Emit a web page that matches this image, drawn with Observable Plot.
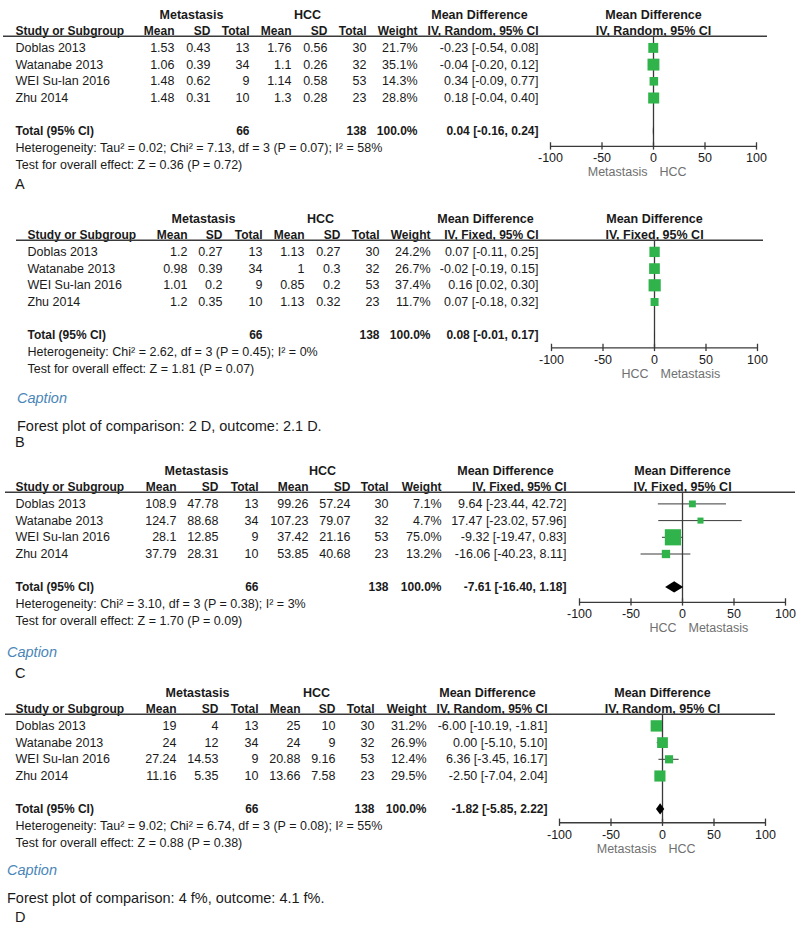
<!DOCTYPE html>
<html><head><meta charset="utf-8">
<script src="https://cdn.jsdelivr.net/npm/d3@7"></script>
<script src="https://cdn.jsdelivr.net/npm/@observablehq/plot@0.6"></script>
<style>
body{margin:0;background:#fff;font-family:"Liberation Sans",Arial,sans-serif;}
#fig{position:relative;width:800px;height:925px;overflow:hidden;background:#fff;}
.panel{position:absolute;left:0;}
.note{position:absolute;white-space:nowrap;transform:translateY(-50%);line-height:1;color:#1a1a1a;font-size:14.5px;}
.cap{color:#4a86b8;font-style:italic;}
</style></head><body><div id="fig"></div>
<script>
// ---------- data ----------
const studies = ["Doblas 2013", "Watanabe 2013", "WEI Su-lan 2016", "Zhu 2014"];
const ticks = [-100, -50, 0, 50, 100];

// Panel A
const aMetaMean = [1.53, 1.06, 1.48, 1.48];
const aMetaSD = [0.43, 0.39, 0.62, 0.31];
const aMetaN = [13, 34, 9, 10];
const aHccMean = [1.76, 1.1, 1.14, 1.3];
const aHccSD = [0.56, 0.26, 0.58, 0.28];
const aHccN = [30, 32, 53, 23];
const aWeight = [21.7, 35.1, 14.3, 28.8];
const aMD = [-0.23, -0.04, 0.34, 0.18];
const aLo = [-0.54, -0.20, -0.09, -0.04];
const aHi = [0.08, 0.12, 0.77, 0.40];
const aTotal = {mN: 66, hN: 138, w: 100.0, md: 0.04, lo: -0.16, hi: 0.24};
const aHet = "Heterogeneity: Tau² = 0.02; Chi² = 7.13, df = 3 (P = 0.07); I² = 58%";
const aTest = "Test for overall effect: Z = 0.36 (P = 0.72)";
const aModel = "IV, Random, 95% CI";
const aSides = ["Metastasis", "HCC"];

// Panel B
const bMetaMean = [1.2, 0.98, 1.01, 1.2];
const bMetaSD = [0.27, 0.39, 0.2, 0.35];
const bMetaN = [13, 34, 9, 10];
const bHccMean = [1.13, 1, 0.85, 1.13];
const bHccSD = [0.27, 0.3, 0.2, 0.32];
const bHccN = [30, 32, 53, 23];
const bWeight = [24.2, 26.7, 37.4, 11.7];
const bMD = [0.07, -0.02, 0.16, 0.07];
const bLo = [-0.11, -0.19, 0.02, -0.18];
const bHi = [0.25, 0.15, 0.30, 0.32];
const bTotal = {mN: 66, hN: 138, w: 100.0, md: 0.08, lo: -0.01, hi: 0.17};
const bHet = "Heterogeneity: Chi² = 2.62, df = 3 (P = 0.45); I² = 0%";
const bTest = "Test for overall effect: Z = 1.81 (P = 0.07)";
const bModel = "IV, Fixed, 95% CI";
const bSides = ["HCC", "Metastasis"];

// Panel C
const cMetaMean = [108.9, 124.7, 28.1, 37.79];
const cMetaSD = [47.78, 88.68, 12.85, 28.31];
const cMetaN = [13, 34, 9, 10];
const cHccMean = [99.26, 107.23, 37.42, 53.85];
const cHccSD = [57.24, 79.07, 21.16, 40.68];
const cHccN = [30, 32, 53, 23];
const cWeight = [7.1, 4.7, 75.0, 13.2];
const cMD = [9.64, 17.47, -9.32, -16.06];
const cLo = [-23.44, -23.02, -19.47, -40.23];
const cHi = [42.72, 57.96, 0.83, 8.11];
const cTotal = {mN: 66, hN: 138, w: 100.0, md: -7.61, lo: -16.40, hi: 1.18};
const cHet = "Heterogeneity: Chi² = 3.10, df = 3 (P = 0.38); I² = 3%";
const cTest = "Test for overall effect: Z = 1.70 (P = 0.09)";
const cModel = "IV, Fixed, 95% CI";
const cSides = ["HCC", "Metastasis"];

// Panel D
const dMetaMean = [19, 24, 27.24, 11.16];
const dMetaSD = [4, 12, 14.53, 5.35];
const dMetaN = [13, 34, 9, 10];
const dHccMean = [25, 24, 20.88, 13.66];
const dHccSD = [10, 9, 9.16, 7.58];
const dHccN = [30, 32, 53, 23];
const dWeight = [31.2, 26.9, 12.4, 29.5];
const dMD = [-6.00, 0.00, 6.36, -2.50];
const dLo = [-10.19, -5.10, -3.45, -7.04];
const dHi = [-1.81, 5.10, 16.17, 2.04];
const dTotal = {mN: 66, hN: 138, w: 100.0, md: -1.82, lo: -5.85, hi: 2.22};
const dHet = "Heterogeneity: Tau² = 9.02; Chi² = 6.74, df = 3 (P = 0.08); I² = 55%";
const dTest = "Test for overall effect: Z = 0.88 (P = 0.38)";
const dModel = "IV, Random, 95% CI";
const dSides = ["Metastasis", "HCC"];

const captionWord = "Caption";
const captionB = "Forest plot of comparison: 2 D, outcome: 2.1 D.";
const captionD = "Forest plot of comparison: 4 f%, outcome: 4.1 f%.";
const panelLetters = ["A", "B", "C", "D"];

// ---------- layout (pixels) ----------
const ROW0 = 14, ROWH = 16.7;
const INK = "#1a1a1a", LINE = "#3a3a3a", GREEN = "#2fb34a", SUB = "#707070";
const FONT = "'Liberation Sans', Arial, sans-serif";

const layouts = [
  {top: 0,   h: 204, label: 15, ruleL: 3,  ruleR: 767, cols: [174, 210, 249, 291, 327, 366, 417, 538], grp: [191, 307], mdHead: 479, forest: [550, 756], axis: 7.9},
  {top: 204, h: 252, label: 27, ruleL: 16, ruleR: 763, cols: [187, 222, 262, 304, 340, 379, 430, 538], grp: [203, 320], mdHead: 485, forest: [551, 757], axis: 7.75},
  {top: 456, h: 222, label: 15, ruleL: 5,  ruleR: 795, cols: [176, 218, 258, 308, 350, 388, 441, 566], grp: [196, 322], mdHead: 505, forest: [579, 785], axis: 7.9},
  {top: 678, h: 247, label: 15, ruleL: 5,  ruleR: 775, cols: [176, 218, 258, 300, 335, 374, 426, 547], grp: [197, 316], mdHead: 487, forest: [559, 765], axis: 7.8}
];

const panels = [
  {mMean: aMetaMean, mSD: aMetaSD, mN: aMetaN, hMean: aHccMean, hSD: aHccSD, hN: aHccN, w: aWeight, md: aMD, lo: aLo, hi: aHi, total: aTotal, het: aHet, test: aTest, model: aModel, sides: aSides},
  {mMean: bMetaMean, mSD: bMetaSD, mN: bMetaN, hMean: bHccMean, hSD: bHccSD, hN: bHccN, w: bWeight, md: bMD, lo: bLo, hi: bHi, total: bTotal, het: bHet, test: bTest, model: bModel, sides: bSides},
  {mMean: cMetaMean, mSD: cMetaSD, mN: cMetaN, hMean: cHccMean, hSD: cHccSD, hN: cHccN, w: cWeight, md: cMD, lo: cLo, hi: cHi, total: cTotal, het: cHet, test: cTest, model: cModel, sides: cSides},
  {mMean: dMetaMean, mSD: dMetaSD, mN: dMetaN, hMean: dHccMean, hSD: dHccSD, hN: dHccN, w: dWeight, md: dMD, lo: dLo, hi: dHi, total: dTotal, het: dHet, test: dTest, model: dModel, sides: dSides}
];

const f2 = v => v.toFixed(2);
const ciText = (m, l, h) => `${f2(m)} [${f2(l)}, ${f2(h)}]`;

function makePanel(p, L) {
  const rows = studies.map((s, i) => ({
    study: s, row: i + 2,
    mMean: p.mMean[i], mSD: p.mSD[i], mN: p.mN[i],
    hMean: p.hMean[i], hSD: p.hSD[i], hN: p.hN[i],
    w: p.w[i], md: p.md[i], lo: p.lo[i], hi: p.hi[i]
  }));
  const TOTAL = 7, HET = 8, TEST = 9, RULE = 1.3, AX = L.axis;
  const marks = [];
  const T = (data, o) => marks.push(Plot.text(data, {frameAnchor: "left", fill: INK, fontSize: 12.5, y: "row", text: "t", ...o}));
  const B = {fontWeight: "bold", fontSize: 12};

  // header row 0
  T([{row: 0, t: "Metastasis"}], {dx: L.grp[0], textAnchor: "middle", ...B, fontSize: 12.5});
  T([{row: 0, t: "HCC"}], {dx: L.grp[1], textAnchor: "middle", ...B, fontSize: 12.5});
  T([{row: 0, t: "Mean Difference"}], {dx: L.mdHead, textAnchor: "middle", ...B, fontSize: 12.5});
  // header row 1
  T([{row: 1, t: "Study or Subgroup"}], {dx: L.label, textAnchor: "start", ...B});
  const heads = ["Mean", "SD", "Total", "Mean", "SD", "Total", "Weight", p.model];
  heads.forEach((h, k) => T([{row: 1, t: h}], {dx: L.cols[k], textAnchor: "end", ...B}));
  // forest header (centred on zero)
  marks.push(Plot.text([{row: 0, t: "Mean Difference"}, {row: 1, t: p.model}],
    {x: () => 0, y: "row", text: "t", fill: INK, fontWeight: "bold", fontSize: 12.5}));

  // study rows
  T(rows, {text: "study", dx: L.label, textAnchor: "start"});
  const keys = ["mMean", "mSD", "mN", "hMean", "hSD", "hN"];
  keys.forEach((k, j) => T(rows, {text: d => String(d[k]), dx: L.cols[j], textAnchor: "end"}));
  T(rows, {text: d => d.w.toFixed(1) + "%", dx: L.cols[6], textAnchor: "end"});
  T(rows, {text: d => ciText(d.md, d.lo, d.hi), dx: L.cols[7], textAnchor: "end"});

  // total row
  const tot = p.total;
  T([{row: TOTAL, t: "Total (95% CI)"}], {dx: L.label, textAnchor: "start", ...B});
  T([{row: TOTAL, t: String(tot.mN)}], {dx: L.cols[2], textAnchor: "end", ...B});
  T([{row: TOTAL, t: String(tot.hN)}], {dx: L.cols[5], textAnchor: "end", ...B});
  T([{row: TOTAL, t: tot.w.toFixed(1) + "%"}], {dx: L.cols[6], textAnchor: "end", ...B});
  T([{row: TOTAL, t: ciText(tot.md, tot.lo, tot.hi)}], {dx: L.cols[7], textAnchor: "end", ...B});
  T([{row: HET, t: p.het}], {dx: L.label, textAnchor: "start"});
  T([{row: TEST, t: p.test}], {dx: L.label, textAnchor: "start"});

  // header rule
  marks.push(Plot.ruleY([RULE], {stroke: LINE, strokeWidth: 1.5, insetLeft: L.ruleL, insetRight: 800 - L.ruleR}));
  // zero line
  marks.push(Plot.ruleX([0], {y1: () => RULE, y2: () => AX, stroke: LINE, strokeWidth: 1.3}));
  // CI lines
  marks.push(Plot.ruleY(rows, {y: "row", x1: "lo", x2: "hi", stroke: LINE, strokeWidth: 1}));
  // squares
  marks.push(Plot.dot(rows, {x: "md", y: "row", r: "w", symbol: "square", fill: GREEN, stroke: "none"}));
  // diamond
  const dia = [
    {x: tot.lo, y1: TOTAL, y2: TOTAL},
    {x: tot.md, y1: TOTAL - 0.34, y2: TOTAL + 0.34},
    {x: tot.hi, y1: TOTAL, y2: TOTAL}
  ];
  marks.push(Plot.areaY(dia, {x: "x", y1: "y1", y2: "y2", fill: "#000", curve: "linear"}));
  // axis
  marks.push(Plot.ruleY([{y: AX, x1: d3.min(ticks), x2: d3.max(ticks)}], {y: "y", x1: "x1", x2: "x2", stroke: LINE, strokeWidth: 1.3}));
  marks.push(Plot.ruleX(ticks, {x: d => d, y1: () => AX - 0.22, y2: () => AX + 0.22, stroke: LINE, strokeWidth: 1.3}));
  marks.push(Plot.text(ticks, {x: d => d, y: () => AX + 0.72, text: d => String(d), fill: INK, fontSize: 12.5}));
  // favours labels
  marks.push(Plot.text([p.sides[0]], {x: () => 0, y: () => AX + 1.56, text: d => d, textAnchor: "end", dx: -6, fill: SUB, fontSize: 12.5}));
  marks.push(Plot.text([p.sides[1]], {x: () => 0, y: () => AX + 1.56, text: d => d, textAnchor: "start", dx: 6, fill: SUB, fontSize: 12.5}));

  return Plot.plot({
    width: 800, height: L.h, margin: 0,
    x: {domain: [d3.min(ticks), d3.max(ticks)], range: L.forest, axis: null},
    y: {domain: [0, 9], range: [ROW0, ROW0 + 9 * ROWH], axis: null},
    r: {domain: [0, 100], range: [1.5, 10.3]},
    style: {fontFamily: FONT, background: "transparent", overflow: "visible"},
    marks
  });
}

const fig = document.getElementById("fig");
panels.forEach((p, i) => {
  const L = layouts[i];
  const svg = makePanel(p, L);
  const wrap = document.createElement("div");
  wrap.className = "panel";
  wrap.style.top = L.top + "px";
  wrap.appendChild(svg);
  fig.appendChild(wrap);
});

function note(text, x, y, cls) {
  const d = document.createElement("div");
  d.className = "note" + (cls ? " " + cls : "");
  d.style.left = x + "px";
  d.style.top = y + "px";
  d.textContent = text;
  fig.appendChild(d);
}
note(panelLetters[0], 15, 184);
note(captionWord, 17, 398, "cap");
note(captionB, 17, 426);
note(panelLetters[1], 15, 442);
note(captionWord, 7, 652, "cap");
note(panelLetters[2], 15, 673);
note(captionWord, 7, 870, "cap");
note(captionD, 7, 898);
note(panelLetters[3], 15, 917);
</script></body></html>
